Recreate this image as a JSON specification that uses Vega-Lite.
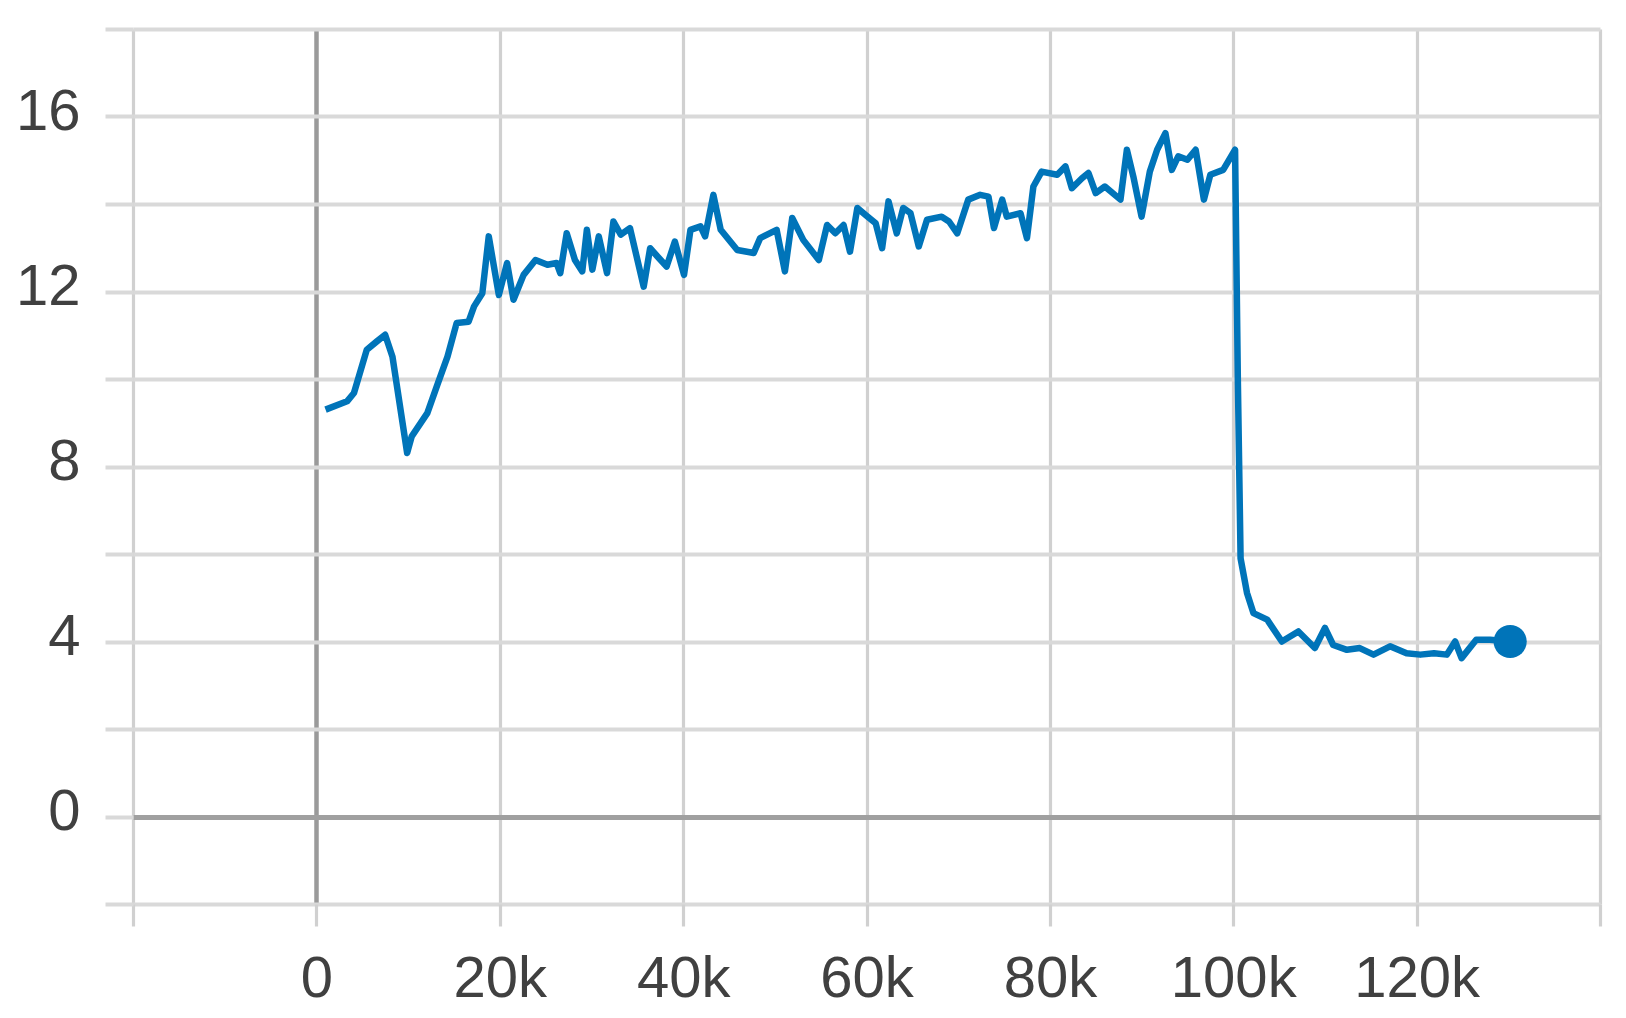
{
  "$schema": "https://vega.github.io/schema/vega-lite/v6.json",
  "width": 1467,
  "height": 875,
  "autosize": {"type": "none"},
  "padding": {"left": 133, "top": 29, "right": 26, "bottom": 114},
  "background": "white",
  "config": {
    "view": {"stroke": null},
    "axis": {"labelFont": "Liberation Sans", "labelFontSize": 58, "labelColor": "#404040", "domain": false, "title": null, "zindex": 0}
  },
  "data": {"values": [
    {"step": 1000, "value": 9.30}, {"step": 3350, "value": 9.49}, {"step": 4100, "value": 9.68},
    {"step": 5500, "value": 10.67}, {"step": 6600, "value": 10.86}, {"step": 7500, "value": 11.01},
    {"step": 8300, "value": 10.51}, {"step": 9900, "value": 8.31}, {"step": 10400, "value": 8.69},
    {"step": 12100, "value": 9.22}, {"step": 13200, "value": 9.87}, {"step": 14300, "value": 10.51},
    {"step": 15300, "value": 11.28}, {"step": 16600, "value": 11.31}, {"step": 17200, "value": 11.66},
    {"step": 18100, "value": 11.96}, {"step": 18800, "value": 13.26}, {"step": 19900, "value": 11.92},
    {"step": 20800, "value": 12.65}, {"step": 21500, "value": 11.81}, {"step": 22600, "value": 12.38},
    {"step": 23900, "value": 12.72}, {"step": 25200, "value": 12.61}, {"step": 26200, "value": 12.65},
    {"step": 26600, "value": 12.42}, {"step": 27300, "value": 13.33}, {"step": 28200, "value": 12.72},
    {"step": 29000, "value": 12.46}, {"step": 29500, "value": 13.41}, {"step": 30100, "value": 12.50},
    {"step": 30800, "value": 13.26}, {"step": 31700, "value": 12.42}, {"step": 32400, "value": 13.60},
    {"step": 33200, "value": 13.30}, {"step": 34200, "value": 13.45}, {"step": 35700, "value": 12.11},
    {"step": 36400, "value": 12.99}, {"step": 37200, "value": 12.80}, {"step": 38200, "value": 12.57},
    {"step": 39100, "value": 13.14}, {"step": 40100, "value": 12.38}, {"step": 40800, "value": 13.41},
    {"step": 41900, "value": 13.49}, {"step": 42400, "value": 13.26}, {"step": 43300, "value": 14.21},
    {"step": 44100, "value": 13.41}, {"step": 45900, "value": 12.95}, {"step": 47700, "value": 12.88},
    {"step": 48400, "value": 13.22}, {"step": 50200, "value": 13.41}, {"step": 51100, "value": 12.46},
    {"step": 51900, "value": 13.68}, {"step": 53100, "value": 13.18}, {"step": 54800, "value": 12.72},
    {"step": 55700, "value": 13.52}, {"step": 56600, "value": 13.33}, {"step": 57500, "value": 13.52},
    {"step": 58200, "value": 12.91}, {"step": 59000, "value": 13.91}, {"step": 59900, "value": 13.75},
    {"step": 61000, "value": 13.56}, {"step": 61700, "value": 12.99}, {"step": 62400, "value": 14.06},
    {"step": 63300, "value": 13.33}, {"step": 64000, "value": 13.91}, {"step": 64800, "value": 13.79},
    {"step": 65700, "value": 13.03}, {"step": 66600, "value": 13.64}, {"step": 68200, "value": 13.71},
    {"step": 69000, "value": 13.60}, {"step": 69900, "value": 13.33}, {"step": 71100, "value": 14.10},
    {"step": 72400, "value": 14.21}, {"step": 73300, "value": 14.17}, {"step": 73900, "value": 13.45},
    {"step": 74800, "value": 14.10}, {"step": 75300, "value": 13.71}, {"step": 76800, "value": 13.79},
    {"step": 77500, "value": 13.22}, {"step": 78200, "value": 14.40}, {"step": 79100, "value": 14.74},
    {"step": 80800, "value": 14.67}, {"step": 81700, "value": 14.86}, {"step": 82400, "value": 14.36},
    {"step": 83500, "value": 14.59}, {"step": 84200, "value": 14.71}, {"step": 85000, "value": 14.25},
    {"step": 86000, "value": 14.40}, {"step": 87700, "value": 14.10}, {"step": 88400, "value": 15.24},
    {"step": 89100, "value": 14.63}, {"step": 90000, "value": 13.71}, {"step": 90900, "value": 14.74},
    {"step": 91700, "value": 15.24}, {"step": 92600, "value": 15.62}, {"step": 93300, "value": 14.78},
    {"step": 94000, "value": 15.09}, {"step": 95000, "value": 15.01}, {"step": 95900, "value": 15.24},
    {"step": 96800, "value": 14.10}, {"step": 97500, "value": 14.67}, {"step": 98900, "value": 14.78},
    {"step": 100200, "value": 15.24}, {"step": 100500, "value": 10.0}, {"step": 100800, "value": 5.9},
    {"step": 101500, "value": 5.11}, {"step": 102200, "value": 4.65}, {"step": 103700, "value": 4.50},
    {"step": 105300, "value": 4.00}, {"step": 107100, "value": 4.23}, {"step": 108900, "value": 3.85},
    {"step": 110000, "value": 4.31}, {"step": 110900, "value": 3.92}, {"step": 112400, "value": 3.81},
    {"step": 113800, "value": 3.85}, {"step": 115300, "value": 3.70}, {"step": 117100, "value": 3.89},
    {"step": 118900, "value": 3.73}, {"step": 120400, "value": 3.70}, {"step": 121900, "value": 3.73},
    {"step": 123300, "value": 3.70}, {"step": 124200, "value": 4.00}, {"step": 124900, "value": 3.62},
    {"step": 126500, "value": 4.04}, {"step": 128000, "value": 4.04}, {"step": 130200, "value": 4.00}
  ]},
  "layer": [
    {
      "mark": {"type": "line", "color": "#0074b9", "strokeWidth": 6.5, "strokeJoin": "round", "clip": true},
      "encoding": {
        "x": {
          "field": "step", "type": "quantitative",
          "scale": {"domain": [-20000, 140000], "nice": false, "zero": false},
          "axis": {
            "values": [-20000, 0, 20000, 40000, 60000, 80000, 100000, 120000, 140000],
            "grid": true,
            "gridColor": {"condition": {"test": "datum.value === 0", "value": "#9a9a9a"}, "value": "#d0d0d0"},
            "gridWidth": {"condition": {"test": "datum.value === 0", "value": 4.5}, "value": 3.2},
            "ticks": true, "tickSize": 22, "tickColor": "#d0d0d0", "tickWidth": 3.2,
            "labelPadding": 24, "labelFlush": false, "labelOverlap": false,
            "labelExpr": "datum.value < 0 || datum.value > 130000 ? '' : (datum.value === 0 ? '0' : (datum.value / 1000) + 'k')"
          }
        },
        "y": {
          "field": "value", "type": "quantitative",
          "scale": {"domain": [-2, 18], "nice": false, "zero": false},
          "axis": {
            "values": [-2, 0, 2, 4, 6, 8, 10, 12, 14, 16, 18],
            "grid": true,
            "gridColor": {"condition": {"test": "datum.value === 0", "value": "#a0a0a0"}, "value": "#d9d9d9"},
            "gridWidth": {"condition": {"test": "datum.value === 0", "value": 5}, "value": 4},
            "ticks": true, "tickSize": 28, "tickColor": "#d9d9d9", "tickWidth": 4,
            "labelPadding": 25, "labelOffset": -4, "labelFlush": false, "labelOverlap": false,
            "labelExpr": "(datum.value % 4 === 0 && datum.value >= 0 && datum.value <= 16) ? datum.label : ''"
          }
        }
      }
    },
    {
      "transform": [{"filter": "datum.step === 130200"}],
      "mark": {"type": "point", "filled": true, "size": 1100, "color": "#0074b9", "opacity": 1},
      "encoding": {
        "x": {"field": "step", "type": "quantitative"},
        "y": {"field": "value", "type": "quantitative"}
      }
    }
  ]
}
